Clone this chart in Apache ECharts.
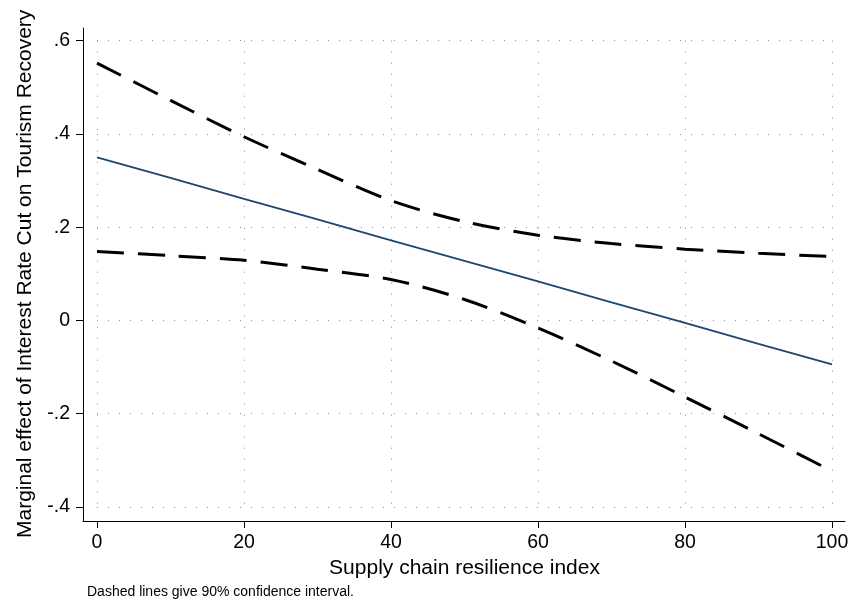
<!DOCTYPE html>
<html>
<head>
<meta charset="utf-8">
<script src="https://cdn.jsdelivr.net/npm/echarts@6/dist/echarts.min.js"></script>
<style>
html,body{margin:0;padding:0;background:#fff;}
#chart{width:853px;height:605px;}
</style>
</head>
<body>
<div id="chart"></div>
<script>
// Supply chain resilience index (x)
const xValues = [0, 10, 20, 30, 40, 50, 60, 70, 80, 90, 100];
// Marginal effect (solid line)
const effect = [0.350, 0.306, 0.261, 0.217, 0.172, 0.128, 0.084, 0.039, -0.005, -0.050, -0.094];
// 90% CI upper bound (dashed)
const upper = [0.552, 0.472, 0.394, 0.324, 0.257, 0.212, 0.183, 0.165, 0.153, 0.144, 0.137];
// 90% CI lower bound (dashed)
const lower = [0.148, 0.139, 0.129, 0.110, 0.088, 0.045, -0.016, -0.087, -0.164, -0.243, -0.323];
// Tick labels
const xTicks = [0, 20, 40, 60, 80, 100];
const yTickValues = [-0.4, -0.2, 0, 0.2, 0.4, 0.6];
const yTickLabels = ['-.4', '-.2', '0', '.2', '.4', '.6'];

const FONT = "'Liberation Sans', Arial, Helvetica, sans-serif";
const pairs = arr => xValues.map((x, i) => [x, arr[i]]);

const chart = echarts.init(document.getElementById('chart'), null, {renderer: 'canvas'});
const dotted = {color: '#8c8c8c', width: 1, type: [1, 10]};

chart.setOption({
  animation: false,
  backgroundColor: '#ffffff',
  grid: [
    {left: 83, right: 8, top: 28, bottom: 84, containLabel: false},
    {left: 97, right: 21, top: 40.7, bottom: 98, containLabel: false}
  ],
  xAxis: [
    {gridIndex: 0, type: 'value', min: 0, max: 1, axisLine: {show: true, onZero: false, lineStyle: {color: '#000', width: 1}},
     axisTick: {show: false}, axisLabel: {show: false}, splitLine: {show: false}},
    {gridIndex: 1, type: 'value', min: 0, max: 100, interval: 20, offset: 14,
     axisLine: {show: false, onZero: false},
     axisTick: {show: true, length: 7, lineStyle: {color: '#000', width: 1}},
     axisLabel: {show: true, color: '#000', fontSize: 19.5, fontFamily: FONT, margin: 12,
       formatter: v => xTicks.includes(v) ? String(v) : ''},
     splitLine: {show: true, lineStyle: dotted},
     name: 'Supply chain resilience index', nameLocation: 'middle', nameGap: 33,
     nameTextStyle: {color: '#000', fontSize: 21, fontFamily: FONT}}
  ],
  yAxis: [
    {gridIndex: 0, type: 'value', min: 0, max: 1, axisLine: {show: true, onZero: false, lineStyle: {color: '#000', width: 1}},
     axisTick: {show: false}, axisLabel: {show: false}, splitLine: {show: false}},
    {gridIndex: 1, type: 'value', min: -0.4, max: 0.6, interval: 0.2, offset: 14,
     axisLine: {show: false, onZero: false},
     axisTick: {show: true, length: 7, lineStyle: {color: '#000', width: 1}},
     axisLabel: {show: true, color: '#000', fontSize: 19.5, fontFamily: FONT, margin: 13,
       formatter: v => {
         const r = Math.round(v * 10) / 10;
         const i = yTickValues.findIndex(t => Math.abs(t - r) < 1e-9);
         return i >= 0 ? yTickLabels[i] : '';
       }},
     splitLine: {show: true, lineStyle: dotted},
     name: 'Marginal effect of Interest Rate Cut on Tourism Recovery', nameLocation: 'middle', nameGap: 47,
     nameRotate: 90,
     nameTextStyle: {color: '#000', fontSize: 21, fontFamily: FONT}}
  ],
  series: [
    {type: 'line', xAxisIndex: 1, yAxisIndex: 1, data: pairs(upper), showSymbol: false, smooth: 0.3,
     lineStyle: {color: '#000', width: 3, type: [27, 14], cap: 'butt'}, z: 3},
    {type: 'line', xAxisIndex: 1, yAxisIndex: 1, data: pairs(lower), showSymbol: false, smooth: 0.3,
     lineStyle: {color: '#000', width: 3, type: [27, 14], cap: 'butt'}, z: 3},
    {type: 'line', xAxisIndex: 1, yAxisIndex: 1, data: pairs(effect), showSymbol: false,
     lineStyle: {color: '#1a476f', width: 1.8}, z: 4}
  ],
  graphic: [
    {type: 'text', left: 87, top: 585,
     style: {text: 'Dashed lines give 90% confidence interval.', fill: '#000', fontSize: 14, fontFamily: FONT}}
  ]
});
</script>
</body>
</html>
